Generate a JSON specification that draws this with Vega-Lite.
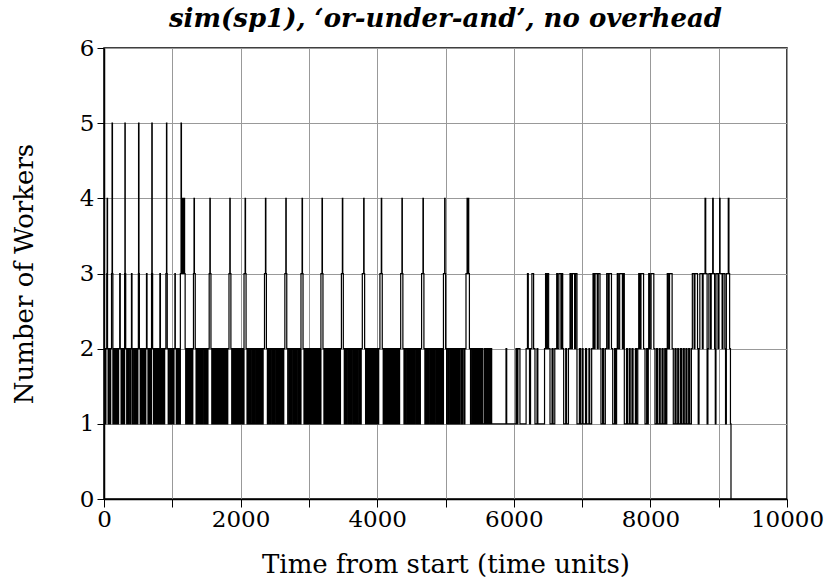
{
"$schema": "https://vega.github.io/schema/vega-lite/v6.json",
"width": 683, "height": 451,
"autosize": "none",
"padding": {"left": 104, "top": 48, "right": 42, "bottom": 84},
"background": "white",
"title": {"text": "sim(sp1), ‘or-under-and’, no overhead", "font": "DejaVu Serif", "fontSize": 26, "fontStyle": "italic", "fontWeight": "bold", "color": "black", "offset": 5, "anchor": "middle"},
"config": {"view": {"stroke": "black", "strokeWidth": 1.5}},
"data": {"values": [
{"t":0,"w":0},{"t":0,"w":2},{"t":15,"w":1},{"t":28,"w":2},{"t":40,"w":3},{"t":46,"w":4},{"t":52,"w":2},{"t":60,"w":1},{"t":72,"w":2},{"t":90,"w":1},{"t":98,"w":2},
{"t":110,"w":3},{"t":118,"w":5},{"t":124,"w":3},{"t":130,"w":1},{"t":142,"w":2},{"t":158,"w":1},{"t":166,"w":2},{"t":180,"w":1},{"t":188,"w":2},
{"t":205,"w":1},{"t":214,"w":2},{"t":230,"w":3},{"t":238,"w":2},{"t":250,"w":1},{"t":258,"w":2},{"t":275,"w":1},{"t":282,"w":2},{"t":296,"w":1},
{"t":302,"w":3},{"t":306,"w":5},{"t":311,"w":3},{"t":318,"w":2},{"t":332,"w":1},{"t":340,"w":2},{"t":356,"w":1},{"t":362,"w":2},{"t":380,"w":1},{"t":388,"w":2},
{"t":402,"w":3},{"t":410,"w":1},{"t":422,"w":2},{"t":440,"w":1},{"t":448,"w":2},{"t":465,"w":1},{"t":474,"w":2},{"t":490,"w":1},{"t":496,"w":2},
{"t":503,"w":3},{"t":506,"w":5},{"t":512,"w":3},{"t":518,"w":2},{"t":530,"w":1},{"t":540,"w":2},{"t":555,"w":1},{"t":565,"w":2},{"t":578,"w":1},{"t":586,"w":2},
{"t":600,"w":1},{"t":612,"w":2},{"t":622,"w":3},{"t":630,"w":2},{"t":644,"w":1},{"t":650,"w":2},{"t":668,"w":1},{"t":676,"w":2},{"t":690,"w":1},{"t":696,"w":3},
{"t":700,"w":5},{"t":706,"w":3},{"t":712,"w":2},{"t":725,"w":1},{"t":736,"w":2},{"t":752,"w":1},{"t":760,"w":2},{"t":776,"w":1},{"t":784,"w":2},
{"t":800,"w":1},{"t":810,"w":2},{"t":818,"w":3},{"t":826,"w":1},{"t":838,"w":2},{"t":855,"w":1},{"t":864,"w":2},{"t":880,"w":1},{"t":888,"w":2},
{"t":906,"w":3},{"t":915,"w":5},{"t":920,"w":3},{"t":926,"w":2},{"t":940,"w":1},{"t":948,"w":2},{"t":966,"w":1},{"t":975,"w":2},{"t":990,"w":1},
{"t":998,"w":2},{"t":1015,"w":1},{"t":1025,"w":2},{"t":1038,"w":3},{"t":1044,"w":2},{"t":1058,"w":1},{"t":1066,"w":2},{"t":1082,"w":1},{"t":1090,"w":2},
{"t":1105,"w":1},{"t":1118,"w":3},{"t":1128,"w":5},{"t":1134,"w":4},{"t":1142,"w":3},{"t":1148,"w":4},{"t":1156,"w":3},{"t":1172,"w":4},{"t":1180,"w":3},{"t":1188,"w":2},{"t":1196,"w":1},
{"t":1208,"w":2},{"t":1222,"w":1},{"t":1230,"w":2},{"t":1246,"w":1},{"t":1256,"w":2},{"t":1270,"w":1},{"t":1278,"w":2},{"t":1294,"w":1},
{"t":1300,"w":2},{"t":1310,"w":3},{"t":1318,"w":4},{"t":1324,"w":3},{"t":1336,"w":2},{"t":1348,"w":1},{"t":1356,"w":2},{"t":1372,"w":1},{"t":1380,"w":2},{"t":1394,"w":1},
{"t":1402,"w":2},{"t":1418,"w":1},{"t":1428,"w":2},{"t":1442,"w":1},{"t":1450,"w":2},{"t":1468,"w":1},{"t":1476,"w":2},{"t":1490,"w":1},
{"t":1498,"w":2},{"t":1512,"w":1},{"t":1522,"w":2},{"t":1540,"w":3},{"t":1550,"w":4},{"t":1556,"w":3},{"t":1566,"w":2},{"t":1578,"w":1},{"t":1590,"w":2},
{"t":1606,"w":1},{"t":1614,"w":2},{"t":1630,"w":1},{"t":1640,"w":2},{"t":1654,"w":1},{"t":1664,"w":2},{"t":1680,"w":1},{"t":1688,"w":2},
{"t":1702,"w":1},{"t":1716,"w":2},{"t":1730,"w":1},{"t":1738,"w":2},{"t":1752,"w":1},{"t":1762,"w":2},{"t":1778,"w":1},{"t":1786,"w":2},
{"t":1800,"w":1},{"t":1812,"w":2},{"t":1830,"w":3},{"t":1842,"w":4},{"t":1848,"w":3},{"t":1858,"w":2},{"t":1870,"w":1},{"t":1880,"w":2},{"t":1896,"w":1},
{"t":1904,"w":2},{"t":1918,"w":1},{"t":1928,"w":2},{"t":1944,"w":1},{"t":1952,"w":2},{"t":1968,"w":1},{"t":1976,"w":2},{"t":1992,"w":1},
{"t":2000,"w":2},{"t":2014,"w":1},{"t":2024,"w":2},{"t":2040,"w":1},{"t":2050,"w":3},{"t":2066,"w":4},{"t":2072,"w":3},{"t":2080,"w":2},{"t":2094,"w":1},
{"t":2102,"w":2},{"t":2118,"w":1},{"t":2128,"w":2},{"t":2144,"w":1},{"t":2152,"w":2},{"t":2170,"w":1},{"t":2178,"w":2},{"t":2194,"w":1},
{"t":2202,"w":2},{"t":2220,"w":1},{"t":2230,"w":2},{"t":2244,"w":1},{"t":2254,"w":2},{"t":2270,"w":1},{"t":2280,"w":2},{"t":2296,"w":1},
{"t":2304,"w":2},{"t":2320,"w":1},{"t":2330,"w":2},{"t":2350,"w":3},{"t":2364,"w":4},{"t":2370,"w":3},{"t":2378,"w":2},{"t":2392,"w":1},
{"t":2400,"w":2},{"t":2416,"w":1},{"t":2426,"w":2},{"t":2442,"w":1},{"t":2450,"w":2},{"t":2468,"w":1},{"t":2478,"w":2},{"t":2494,"w":1},
{"t":2502,"w":2},{"t":2520,"w":1},{"t":2530,"w":2},{"t":2546,"w":1},{"t":2556,"w":2},{"t":2572,"w":1},{"t":2582,"w":2},{"t":2598,"w":1},
{"t":2606,"w":2},{"t":2622,"w":1},{"t":2632,"w":2},{"t":2648,"w":3},{"t":2662,"w":4},{"t":2668,"w":3},{"t":2676,"w":2},{"t":2690,"w":1},
{"t":2698,"w":2},{"t":2716,"w":1},{"t":2726,"w":2},{"t":2742,"w":1},{"t":2752,"w":2},{"t":2770,"w":1},{"t":2780,"w":2},{"t":2796,"w":1},
{"t":2804,"w":2},{"t":2820,"w":1},{"t":2830,"w":2},{"t":2848,"w":1},{"t":2858,"w":2},{"t":2874,"w":1},{"t":2884,"w":3},{"t":2900,"w":4},{"t":2906,"w":3},{"t":2914,"w":2},
{"t":2928,"w":1},{"t":2938,"w":2},{"t":2954,"w":1},{"t":2964,"w":2},{"t":2980,"w":1},{"t":2990,"w":2},
{"t":3006,"w":1},{"t":3020,"w":2},{"t":3034,"w":1},{"t":3044,"w":2},{"t":3060,"w":1},{"t":3070,"w":2},{"t":3086,"w":1},{"t":3096,"w":2},
{"t":3112,"w":1},{"t":3124,"w":2},{"t":3140,"w":1},{"t":3150,"w":2},{"t":3166,"w":1},{"t":3176,"w":3},{"t":3192,"w":4},{"t":3198,"w":3},{"t":3206,"w":2},
{"t":3220,"w":1},{"t":3230,"w":2},{"t":3246,"w":1},{"t":3256,"w":2},{"t":3272,"w":1},{"t":3282,"w":2},{"t":3298,"w":1},
{"t":3306,"w":2},{"t":3322,"w":1},{"t":3332,"w":2},{"t":3348,"w":1},{"t":3358,"w":2},{"t":3374,"w":1},{"t":3384,"w":2},
{"t":3400,"w":1},{"t":3410,"w":2},{"t":3426,"w":1},{"t":3436,"w":2},{"t":3452,"w":1},{"t":3462,"w":2},{"t":3476,"w":3},{"t":3490,"w":4},{"t":3496,"w":3},{"t":3504,"w":2},
{"t":3518,"w":1},{"t":3528,"w":2},{"t":3544,"w":1},{"t":3554,"w":2},{"t":3572,"w":1},{"t":3582,"w":2},{"t":3598,"w":1},
{"t":3606,"w":2},{"t":3622,"w":1},{"t":3632,"w":2},{"t":3650,"w":1},{"t":3660,"w":2},{"t":3676,"w":1},{"t":3686,"w":2},
{"t":3702,"w":1},{"t":3712,"w":2},{"t":3730,"w":1},{"t":3740,"w":2},{"t":3756,"w":1},{"t":3766,"w":2},{"t":3782,"w":3},{"t":3802,"w":4},{"t":3808,"w":3},{"t":3816,"w":2},
{"t":3830,"w":1},{"t":3840,"w":2},{"t":3856,"w":1},{"t":3866,"w":2},{"t":3882,"w":1},{"t":3892,"w":2},
{"t":3908,"w":1},{"t":3918,"w":2},{"t":3934,"w":1},{"t":3944,"w":2},{"t":3960,"w":1},{"t":3970,"w":2},{"t":3986,"w":1},{"t":3996,"w":2},
{"t":4012,"w":1},{"t":4022,"w":2},{"t":4040,"w":3},{"t":4060,"w":4},{"t":4066,"w":3},{"t":4074,"w":2},{"t":4088,"w":1},{"t":4098,"w":2},
{"t":4114,"w":1},{"t":4124,"w":2},{"t":4140,"w":1},{"t":4150,"w":2},{"t":4166,"w":1},{"t":4176,"w":2},{"t":4192,"w":1},
{"t":4200,"w":2},{"t":4216,"w":1},{"t":4226,"w":2},{"t":4242,"w":1},{"t":4252,"w":2},{"t":4268,"w":1},{"t":4278,"w":2},{"t":4294,"w":1},
{"t":4302,"w":2},{"t":4318,"w":1},{"t":4328,"w":2},{"t":4344,"w":3},{"t":4362,"w":4},{"t":4368,"w":3},{"t":4376,"w":2},{"t":4392,"w":1},
{"t":4400,"w":2},{"t":4416,"w":1},{"t":4426,"w":2},{"t":4444,"w":1},{"t":4454,"w":2},{"t":4470,"w":1},{"t":4480,"w":2},{"t":4496,"w":1},
{"t":4504,"w":2},{"t":4520,"w":1},{"t":4530,"w":2},{"t":4546,"w":1},{"t":4556,"w":2},{"t":4574,"w":1},{"t":4584,"w":2},{"t":4598,"w":1},
{"t":4606,"w":2},{"t":4622,"w":1},{"t":4632,"w":2},{"t":4650,"w":3},{"t":4670,"w":4},{"t":4676,"w":3},{"t":4684,"w":2},{"t":4698,"w":1},
{"t":4706,"w":2},{"t":4722,"w":1},{"t":4732,"w":2},{"t":4748,"w":1},{"t":4758,"w":2},{"t":4776,"w":1},{"t":4786,"w":2},
{"t":4802,"w":1},{"t":4812,"w":2},{"t":4828,"w":1},{"t":4838,"w":2},{"t":4856,"w":1},{"t":4866,"w":2},{"t":4882,"w":1},{"t":4892,"w":2},
{"t":4908,"w":1},{"t":4918,"w":2},{"t":4934,"w":1},{"t":4944,"w":2},{"t":4960,"w":1},{"t":4970,"w":3},{"t":4988,"w":4},{"t":4994,"w":3},{"t":5002,"w":2},
{"t":5016,"w":1},{"t":5026,"w":2},{"t":5044,"w":1},{"t":5054,"w":2},{"t":5072,"w":1},{"t":5082,"w":2},{"t":5098,"w":1},
{"t":5108,"w":2},{"t":5120,"w":1},{"t":5130,"w":2},{"t":5144,"w":1},{"t":5154,"w":2},{"t":5170,"w":1},{"t":5184,"w":2},
{"t":5200,"w":1},{"t":5216,"w":2},{"t":5236,"w":1},{"t":5250,"w":2},{"t":5270,"w":1},{"t":5284,"w":2},{"t":5300,"w":3},
{"t":5316,"w":4},{"t":5322,"w":3},{"t":5334,"w":4},{"t":5340,"w":3},{"t":5350,"w":2},{"t":5366,"w":1},{"t":5384,"w":2},
{"t":5400,"w":1},{"t":5410,"w":2},{"t":5422,"w":1},{"t":5432,"w":2},{"t":5446,"w":1},{"t":5456,"w":2},{"t":5470,"w":1},{"t":5480,"w":2},{"t":5494,"w":1},{"t":5506,"w":2},{"t":5520,"w":1},{"t":5530,"w":2},{"t":5546,"w":1},{"t":5570,"w":2},{"t":5582,"w":1},{"t":5596,"w":2},{"t":5608,"w":1},{"t":5620,"w":2},{"t":5632,"w":1},{"t":5642,"w":2},{"t":5654,"w":1},{"t":5664,"w":2},{"t":5676,"w":1},
{"t":5886,"w":2},{"t":5896,"w":1},{"t":6032,"w":2},{"t":6044,"w":1},{"t":6060,"w":2},{"t":6090,"w":1},
{"t":6180,"w":2},{"t":6200,"w":3},{"t":6212,"w":2},{"t":6230,"w":1},{"t":6245,"w":2},{"t":6265,"w":3},{"t":6290,"w":2},{"t":6310,"w":1},
{"t":6340,"w":2},{"t":6352,"w":1},
{"t":6450,"w":2},{"t":6465,"w":3},{"t":6480,"w":2},{"t":6492,"w":3},{"t":6510,"w":2},{"t":6530,"w":1},
{"t":6560,"w":2},{"t":6575,"w":1},{"t":6600,"w":2},
{"t":6628,"w":3},{"t":6640,"w":2},{"t":6660,"w":3},{"t":6690,"w":2},{"t":6702,"w":3},{"t":6716,"w":2},{"t":6730,"w":1},
{"t":6760,"w":2},{"t":6772,"w":1},{"t":6800,"w":2},
{"t":6823,"w":3},{"t":6840,"w":2},{"t":6858,"w":3},{"t":6890,"w":2},{"t":6905,"w":3},{"t":6925,"w":1},
{"t":6960,"w":2},{"t":6975,"w":1},{"t":7000,"w":2},{"t":7014,"w":1},{"t":7050,"w":2},{"t":7066,"w":1},{"t":7100,"w":2},{"t":7112,"w":1},{"t":7140,"w":2},
{"t":7160,"w":3},{"t":7175,"w":2},{"t":7190,"w":3},{"t":7222,"w":2},{"t":7236,"w":3},{"t":7262,"w":2},{"t":7276,"w":1},
{"t":7300,"w":2},{"t":7316,"w":1},{"t":7340,"w":2},
{"t":7360,"w":3},{"t":7380,"w":2},{"t":7396,"w":3},{"t":7430,"w":2},{"t":7448,"w":1},
{"t":7475,"w":2},{"t":7490,"w":1},{"t":7505,"w":2},
{"t":7515,"w":3},{"t":7530,"w":2},{"t":7550,"w":3},{"t":7590,"w":2},{"t":7604,"w":3},{"t":7618,"w":1},
{"t":7650,"w":2},{"t":7664,"w":1},{"t":7690,"w":2},{"t":7704,"w":1},{"t":7730,"w":2},{"t":7746,"w":1},{"t":7780,"w":2},{"t":7796,"w":1},{"t":7815,"w":2},
{"t":7829,"w":3},{"t":7846,"w":2},{"t":7862,"w":3},{"t":7900,"w":2},{"t":7921,"w":1},
{"t":7945,"w":2},{"t":7960,"w":1},{"t":7969,"w":2},{"t":7975,"w":3},{"t":7990,"w":2},{"t":8010,"w":3},{"t":8050,"w":2},{"t":8067,"w":1},
{"t":8090,"w":2},{"t":8104,"w":1},{"t":8130,"w":2},{"t":8144,"w":1},{"t":8170,"w":2},{"t":8186,"w":1},{"t":8210,"w":2},{"t":8226,"w":1},{"t":8240,"w":2},
{"t":8247,"w":3},{"t":8262,"w":2},{"t":8280,"w":3},{"t":8318,"w":2},{"t":8335,"w":1},
{"t":8360,"w":2},{"t":8376,"w":1},{"t":8400,"w":2},{"t":8414,"w":1},{"t":8440,"w":2},{"t":8456,"w":1},{"t":8480,"w":2},{"t":8496,"w":1},{"t":8520,"w":2},{"t":8536,"w":1},{"t":8560,"w":2},{"t":8576,"w":1},
{"t":8600,"w":2},{"t":8614,"w":3},{"t":8640,"w":2},{"t":8652,"w":3},{"t":8690,"w":2},{"t":8700,"w":1},{"t":8712,"w":2},{"t":8724,"w":3},{"t":8760,"w":2},{"t":8772,"w":3},{"t":8800,"w":4},{"t":8810,"w":3},{"t":8830,"w":1},{"t":8842,"w":2},{"t":8856,"w":3},{"t":8880,"w":2},{"t":8890,"w":3},{"t":8912,"w":4},{"t":8920,"w":3},{"t":8940,"w":2},{"t":8950,"w":1},{"t":8960,"w":3},{"t":8990,"w":2},{"t":9000,"w":3},{"t":9014,"w":4},{"t":9020,"w":3},{"t":9050,"w":2},{"t":9062,"w":3},{"t":9090,"w":2},{"t":9100,"w":1},{"t":9112,"w":3},{"t":9140,"w":4},{"t":9150,"w":3},{"t":9160,"w":2},{"t":9172,"w":1},{"t":9180,"w":0}
]},
"mark": {"type": "line", "interpolate": "step-after", "color": "black", "strokeWidth": 1.2, "clip": true},
"encoding": {
"x": {"field": "t", "type": "quantitative", "scale": {"domain": [0, 10000], "nice": false, "zero": true},
 "axis": {"title": "Time from start (time units)", "values": [0,1000,2000,3000,4000,5000,6000,7000,8000,9000,10000], "labelExpr": "datum.value % 2000 === 0 ? format(datum.value, 'd') : ''", "grid": true, "gridColor": "#999999", "gridWidth": 1, "gridOpacity": 1, "domainColor": "black", "domainWidth": 1.5, "tickColor": "black", "tickSize": 8, "tickWidth": 1, "labelFont": "DejaVu Serif", "labelFontSize": 23, "labelColor": "black", "labelPadding": 1, "labelFlush": false, "titleFont": "DejaVu Serif", "titleFontSize": 26, "titleFontWeight": "normal", "titleColor": "black", "titlePadding": 20}},
"y": {"field": "w", "type": "quantitative", "scale": {"domain": [0, 6], "nice": false},
 "axis": {"title": "Number of Workers", "values": [0,1,2,3,4,5,6], "grid": true, "gridColor": "#999999", "gridWidth": 1, "gridOpacity": 1, "domainColor": "black", "domainWidth": 1.5, "tickColor": "black", "tickSize": 7, "tickWidth": 1, "labelFont": "DejaVu Serif", "labelFontSize": 23, "labelColor": "black", "labelPadding": 3, "labelFlush": false, "titleFont": "DejaVu Serif", "titleFontSize": 26, "titleFontWeight": "normal", "titleColor": "black", "titlePadding": 42}}
}
}
